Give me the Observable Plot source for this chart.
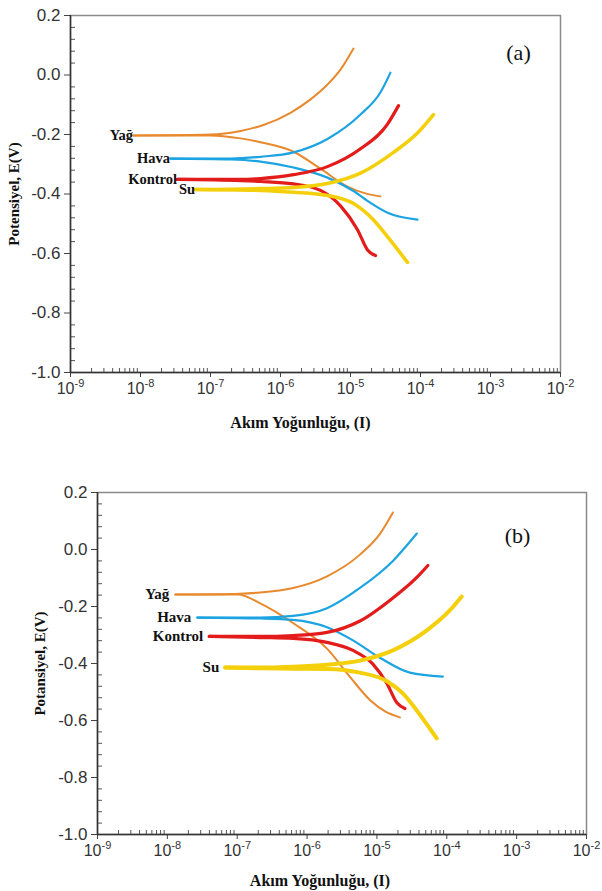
<!DOCTYPE html>
<html>
<head>
<meta charset="utf-8">
<script src="https://cdn.jsdelivr.net/npm/d3@7"></script>
<script src="https://cdn.jsdelivr.net/npm/@observablehq/plot@0.6"></script>
<style>
  html, body { margin: 0; padding: 0; background: #fff; }
  #wrap { position: relative; width: 602px; height: 891px; }
  #a { position: absolute; left: 0; top: 0; }
  #b { position: absolute; left: 0; top: 440px; }
</style>
</head>
<body>
<div id="wrap"><div id="a"></div><div id="b"></div></div>
<script>
// ---------- data: [log10(I), E (V)] ----------
const seriesNames = ["Yağ", "Hava", "Kontrol", "Su"];
const seriesColors = ["#E8892E", "#1BA3E2", "#E31B1B", "#F4D00C"];

// panel (a)
const aYagAnodic = [[-8.10,-0.203],[-7.00,-0.200],[-6.571,-0.188],[-6.243,-0.168],[-5.857,-0.127],[-5.571,-0.082],[-5.329,-0.032],[-5.143,0.018],[-4.957,0.089]];
const aYagCathodic = [[-8.10,-0.203],[-7.00,-0.203],[-6.571,-0.213],[-6.286,-0.226],[-5.814,-0.258],[-5.429,-0.315],[-5.043,-0.375],[-4.786,-0.398],[-4.571,-0.408]];
const aHavaAnodic = [[-7.571,-0.281],[-6.714,-0.281],[-6.286,-0.275],[-5.814,-0.260],[-5.329,-0.215],[-4.857,-0.133],[-4.571,-0.058],[-4.429,0.008]];
const aHavaCathodic = [[-7.571,-0.281],[-6.714,-0.284],[-6.286,-0.291],[-5.814,-0.311],[-5.329,-0.345],[-4.957,-0.390],[-4.714,-0.430],[-4.471,-0.463],[-4.043,-0.486]];
const aKontrolAnodic = [[-7.471,-0.351],[-6.571,-0.351],[-6.286,-0.348],[-5.814,-0.335],[-5.329,-0.308],[-4.857,-0.248],[-4.471,-0.165],[-4.314,-0.103]];
const aKontrolCathodic = [[-7.471,-0.351],[-6.571,-0.355],[-6.286,-0.358],[-5.814,-0.366],[-5.429,-0.388],[-5.143,-0.440],[-4.900,-0.520],[-4.757,-0.588],[-4.643,-0.607]];
const aSuAnodic = [[-7.214,-0.385],[-6.286,-0.382],[-5.814,-0.378],[-5.329,-0.365],[-4.857,-0.330],[-4.386,-0.260],[-4.043,-0.195],[-3.814,-0.133]];
const aSuCathodic = [[-7.214,-0.385],[-6.286,-0.388],[-5.814,-0.394],[-5.329,-0.405],[-4.957,-0.432],[-4.671,-0.487],[-4.429,-0.556],[-4.186,-0.630]];

// panel (b)
const bYagAnodic = [[-7.886,-0.158],[-6.957,-0.155],[-6.671,-0.151],[-6.200,-0.135],[-5.714,-0.094],[-5.243,-0.018],[-4.957,0.055],[-4.771,0.130]];
const bYagCathodic = [[-7.886,-0.158],[-6.986,-0.158],[-6.671,-0.189],[-6.200,-0.258],[-5.714,-0.348],[-5.386,-0.447],[-5.100,-0.528],[-4.871,-0.570],[-4.671,-0.589]];
const bHavaAnodic = [[-7.571,-0.239],[-6.671,-0.239],[-6.200,-0.233],[-5.714,-0.206],[-5.243,-0.135],[-4.771,-0.040],[-4.429,0.056]];
const bHavaCathodic = [[-7.571,-0.239],[-6.671,-0.242],[-6.200,-0.247],[-5.714,-0.273],[-5.343,-0.319],[-4.957,-0.380],[-4.529,-0.432],[-4.057,-0.446]];
const bKontrolAnodic = [[-7.400,-0.305],[-6.671,-0.305],[-6.200,-0.302],[-5.714,-0.291],[-5.243,-0.251],[-4.771,-0.170],[-4.429,-0.098],[-4.271,-0.056]];
const bKontrolCathodic = [[-7.400,-0.305],[-6.671,-0.309],[-6.200,-0.312],[-5.714,-0.326],[-5.343,-0.354],[-5.057,-0.402],[-4.857,-0.470],[-4.714,-0.538],[-4.600,-0.558]];
const bSuAnodic = [[-7.171,-0.414],[-6.671,-0.414],[-6.200,-0.411],[-5.714,-0.404],[-5.243,-0.390],[-4.771,-0.354],[-4.286,-0.284],[-3.957,-0.214],[-3.786,-0.165]];
const bSuCathodic = [[-7.171,-0.414],[-6.671,-0.417],[-6.200,-0.418],[-5.714,-0.419],[-5.243,-0.432],[-4.857,-0.462],[-4.629,-0.505],[-4.429,-0.565],[-4.243,-0.628],[-4.143,-0.663]];

// axes
const yTicks = [0.2, 0.0, -0.2, -0.4, -0.6, -0.8, -1.0];
const xTickExponents = [-9, -8, -7, -6, -5, -4, -3, -2];
const xAxisTitle = "Akım Yoğunluğu, (I)";
const yAxisTitleA = "Potensiyel, E(V)";
const yAxisTitleB = "Potansiyel, E(V)";
const panelTags = ["(a)", "(b)"];

// ---------- helpers ----------
function buildRows(branches) {
  const rows = [];
  branches.forEach(([si, branch, pts]) => {
    pts.forEach(([lx, e]) => rows.push({s: si, key: si + "-" + branch, I: Math.pow(10, lx), E: e}));
  });
  return rows;
}

const xMajor = xTickExponents.map(e => Math.pow(10, e));
const xMinor = [];
xTickExponents.slice(0, -1).forEach(e => { for (let k = 2; k <= 9; k++) xMinor.push(k * Math.pow(10, e)); });
const yMinor = d3.range(0.2, -1.0001, -0.04).filter(v => Math.abs(Math.round(v * 5) - v * 5) > 1e-6);

const SANS = "Liberation Sans, Arial, sans-serif";
const SERIF = "Liberation Serif, Times New Roman, serif";

function drawPanel(cfg) {
  const rows = buildRows(cfg.branches);
  const labelRows = cfg.starts.map((p, i) => ({name: seriesNames[i], I: Math.pow(10, p[0]), E: p[1], i}));
  const marks = [
    Plot.frame({stroke: "#8a8a8a", strokeWidth: 1.5}),
    Plot.axisX({ticks: xMinor, tickSize: -4, tickFormat: () => "", stroke: "#555", label: null}),
    Plot.axisY({ticks: yMinor, tickSize: -5, tickFormat: () => "", stroke: "#555", label: null}),
    Plot.axisX({ticks: xMajor, tickSize: 5, tickPadding: 5, stroke: "#444",
      tickFormat: d => "10^" + Math.round(Math.log10(d)), fontSize: 16, fontFamily: SANS, fill: "#333", label: null}),
    Plot.axisY({ticks: yTicks, tickSize: 6, tickPadding: cfg.yPad, stroke: "#444",
      tickFormat: d => d.toFixed(1), fontSize: 17, fontFamily: SANS, fill: "#333", label: null}),
    Plot.ruleX([1e-9], {stroke: "#333", strokeWidth: 1.5}),
    Plot.ruleY([-1.0], {stroke: "#333", strokeWidth: 1.5}),
    ...seriesNames.map((n, i) => Plot.line(rows.filter(r => r.s === i), {
      x: "I", y: "E", z: "key", stroke: seriesColors[i], strokeWidth: cfg.widths[i],
      curve: "monotone-x", strokeLinecap: "round"
    })),
    Plot.text(labelRows, {x: "I", y: "E", text: "name", textAnchor: "end",
      fontFamily: SERIF, fontWeight: "bold", fontSize: cfg.labelSize, fill: "#111", dx: cfg.labelDx, dy: cfg.labelDy}),
    Plot.text([cfg.tag], {frameAnchor: "top-right", textAnchor: "middle", lineAnchor: "middle",
      dx: cfg.tagDx, dy: cfg.tagDy, fontFamily: SERIF, fontSize: 22, fill: "#111"}),
    Plot.text([xAxisTitle], {frameAnchor: "bottom", textAnchor: "middle", lineAnchor: "middle",
      dx: cfg.xtDx, dy: cfg.xtDy, fontFamily: SERIF, fontWeight: "bold", fontSize: 16, fill: "#111"}),
    Plot.text([cfg.yTitle], {frameAnchor: "left", rotate: -90, textAnchor: "middle", lineAnchor: "middle",
      dx: cfg.ytDx, dy: cfg.ytDy, fontFamily: SERIF, fontWeight: "bold", fontSize: 15, fill: "#111"})
  ];
  const svg = Plot.plot({
    width: 602, height: cfg.height,
    marginLeft: cfg.ml, marginRight: cfg.mr, marginTop: cfg.mt, marginBottom: cfg.mb,
    x: {type: "log", domain: [1e-9, 1e-2], axis: null},
    y: {domain: [-1.0, 0.2], axis: null},
    style: {background: "#fff", overflow: "visible"},
    marks
  });
  svg.querySelectorAll("text").forEach(t => {
    const s = t.textContent;
    if (/^10\^-?\d+$/.test(s)) {
      const ex = s.split("^")[1];
      t.textContent = "10";
      t.style.fontSize = "16px";
      t.style.fontFamily = SANS;
      const ts = document.createElementNS("http://www.w3.org/2000/svg", "tspan");
      ts.setAttribute("dy", "-7");
      ts.style.fontSize = "11px";
      ts.textContent = ex;
      t.appendChild(ts);
    } else if (/^-?\d\.\d$/.test(s)) {
      t.style.fontSize = "17px";
      t.style.fontFamily = SANS;
    }
  });
  return svg;
}

const split = (an, ca, i) => [[i, "an", an], [i, "ca", ca]];

const svgA = drawPanel({
  height: 440, ml: 70, mr: 42, mt: 15, mb: 68, yPad: 4,
  branches: [...split(aYagAnodic, aYagCathodic, 0), ...split(aHavaAnodic, aHavaCathodic, 1),
             ...split(aKontrolAnodic, aKontrolCathodic, 2), ...split(aSuAnodic, aSuCathodic, 3)],
  starts: [aYagAnodic[0], aHavaAnodic[0], aKontrolAnodic[0], aSuAnodic[0]],
  widths: [2, 2.2, 3.2, 3.6],
  labelSize: 14.5, labelDx: -3, labelDy: d => d.i === 3 ? 3 : 0,
  tag: panelTags[0], tagDx: -42, tagDy: 37,
  xtDx: -15, xtDy: 50, yTitle: yAxisTitleA, ytDx: -56, ytDy: 0
});
document.getElementById("a").appendChild(svgA);

const svgB = drawPanel({
  height: 451, ml: 97, mr: 16, mt: 52, mb: 57, yPad: 4,
  branches: [...split(bYagAnodic, bYagCathodic, 0), ...split(bHavaAnodic, bHavaCathodic, 1),
             ...split(bKontrolAnodic, bKontrolCathodic, 2), ...split(bSuAnodic, bSuCathodic, 3)],
  starts: [bYagAnodic[0], bHavaAnodic[0], bKontrolAnodic[0], bSuAnodic[0]],
  widths: [2, 2.2, 3.2, 4],
  labelSize: 15, labelDx: -6, labelDy: 0,
  tag: panelTags[1], tagDx: -69, tagDy: 43,
  xtDx: -22, xtDy: 46, yTitle: yAxisTitleB, ytDx: -57, ytDy: 0
});
document.getElementById("b").appendChild(svgB);
</script>
</body>
</html>
